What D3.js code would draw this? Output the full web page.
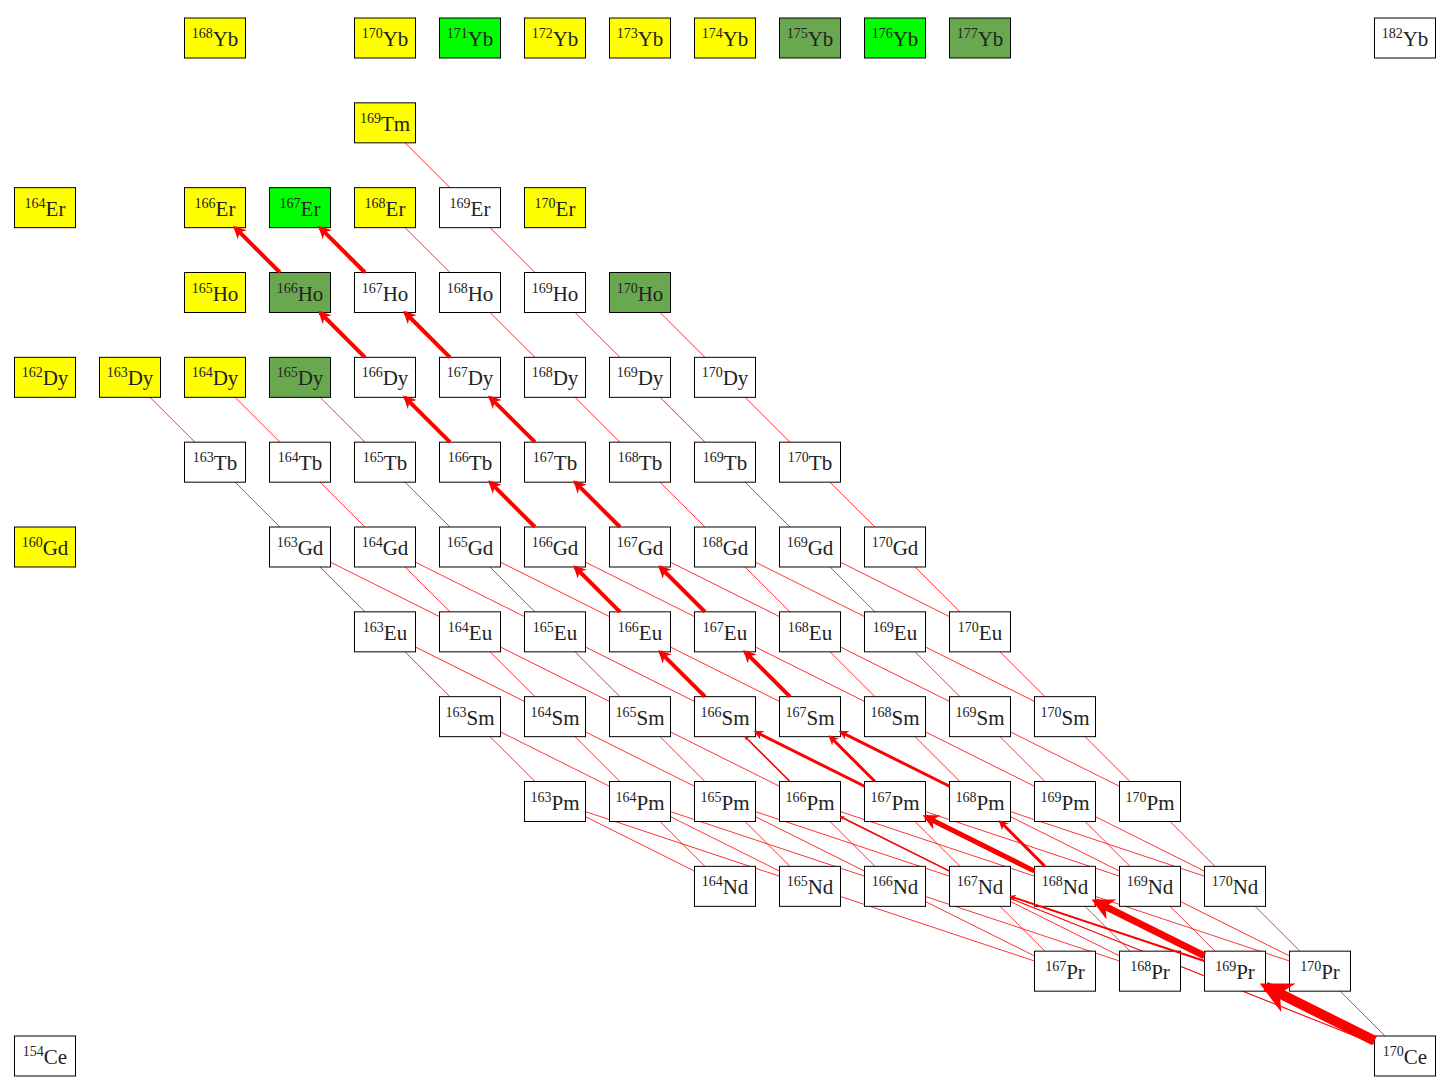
<!DOCTYPE html>
<html><head><meta charset="utf-8">
<script src="https://cdn.jsdelivr.net/npm/d3@7"></script>
<style>body{margin:0;background:#fff}</style>
</head><body>
<svg id="chart" width="1446" height="1089"></svg>
<script>
'use strict';
// elements by Z
var elements = [{z:70,s:'Yb'},{z:69,s:'Tm'},{z:68,s:'Er'},{z:67,s:'Ho'},{z:66,s:'Dy'},{z:65,s:'Tb'},
  {z:64,s:'Gd'},{z:63,s:'Eu'},{z:62,s:'Sm'},{z:61,s:'Pm'},{z:60,s:'Nd'},{z:59,s:'Pr'},{z:58,s:'Ce'}];
// nuclides: [Z, A, colour class] y=yellow g=green d=dark green w=white
var nuclides = [
  [70,168,'y'],[70,170,'y'],[70,171,'g'],[70,172,'y'],[70,173,'y'],[70,174,'y'],[70,175,'d'],[70,176,'g'],[70,177,'d'],[70,182,'w'],
  [69,169,'y'],
  [68,164,'y'],[68,166,'y'],[68,167,'g'],[68,168,'y'],[68,169,'w'],[68,170,'y'],
  [67,165,'y'],[67,166,'d'],[67,167,'w'],[67,168,'w'],[67,169,'w'],[67,170,'d'],
  [66,162,'y'],[66,163,'y'],[66,164,'y'],[66,165,'d'],[66,166,'w'],[66,167,'w'],[66,168,'w'],[66,169,'w'],[66,170,'w'],
  [65,163,'w'],[65,164,'w'],[65,165,'w'],[65,166,'w'],[65,167,'w'],[65,168,'w'],[65,169,'w'],[65,170,'w'],
  [64,160,'y'],[64,163,'w'],[64,164,'w'],[64,165,'w'],[64,166,'w'],[64,167,'w'],[64,168,'w'],[64,169,'w'],[64,170,'w'],
  [63,163,'w'],[63,164,'w'],[63,165,'w'],[63,166,'w'],[63,167,'w'],[63,168,'w'],[63,169,'w'],[63,170,'w'],
  [62,163,'w'],[62,164,'w'],[62,165,'w'],[62,166,'w'],[62,167,'w'],[62,168,'w'],[62,169,'w'],[62,170,'w'],
  [61,163,'w'],[61,164,'w'],[61,165,'w'],[61,166,'w'],[61,167,'w'],[61,168,'w'],[61,169,'w'],[61,170,'w'],
  [60,164,'w'],[60,165,'w'],[60,166,'w'],[60,167,'w'],[60,168,'w'],[60,169,'w'],[60,170,'w'],
  [59,167,'w'],[59,168,'w'],[59,169,'w'],[59,170,'w'],
  [58,154,'w'],[58,170,'w']
];
// strong flows: [Zfrom, Afrom, Ato, width]  (target Z = Zfrom+1)
var flows = [
  [67,166,166,4],[67,167,167,4],[66,166,166,4],[66,167,167,4],[65,166,166,4],[65,167,167,4],
  [64,166,166,4],[64,167,167,4],[63,166,166,4],[63,167,167,4],[62,166,166,4],[62,167,167,4],
  [61,166,166,1.5],[61,167,166,3],[61,167,167,3],[61,168,167,3],
  [60,167,166,1.5],[60,168,167,5],[60,168,168,3],
  [59,169,168,7],[59,169,167,2],[58,170,169,10]
];
var colours = {y:'#ffff00', g:'#00ff00', d:'#6aa84f', w:'#ffffff'};
var boxW = 61, boxH = 40;

var svg = d3.select('#chart');
var x = d3.scaleLinear().domain([96,112]).range([45,1405]);
var y = d3.scaleLinear().domain([70,58]).range([38,1056]);

var byKey = {};
nuclides.forEach(function(n){ byKey[n[0]+'-'+n[1]] = n; });
function pos(z,a){ return [x(a-z), y(z)]; }

// thin decay links
var links = [];
nuclides.forEach(function(n){
  if (n[2] !== 'w' || n[0] >= 69 || n[1] < 163) return;
  var maxN = n[0] <= 60 ? 2 : (n[0] <= 63 ? 1 : 0);
  if (n[0] === 58) maxN = 3;
  for (var k = 0; k <= maxN; k++) {
    if (byKey[(n[0]+1)+'-'+(n[1]-k)]) links.push([n[0], n[1], n[1]-k]);
  }
});
if (byKey['60-167']) { links.push([58,170,168]); links.push([58,170,167]); }

svg.append('g').selectAll('line').data(links).join('line')
  .attr('x1', function(d){ return pos(d[0],d[1])[0]; })
  .attr('y1', function(d){ return pos(d[0],d[1])[1]; })
  .attr('x2', function(d){ return d[0]===58 && d[2]<=168 && d[2]>=167 && d.length ? pos(60,d[2])[0] : pos(d[0]+1,d[2])[0]; })
  .attr('y2', function(d){ return d[0]===58 && d[2]<=168 ? pos(60,d[2])[1] : pos(d[0]+1,d[2])[1]; })
  .attr('stroke','red').attr('stroke-width',0.8);

// arrowhead
svg.append('defs').append('marker').attr('id','head')
  .attr('viewBox','0 0 10 10').attr('refX',8).attr('refY',5)
  .attr('markerWidth',3.2).attr('markerHeight',3.2).attr('orient','auto')
  .append('path').attr('d','M0,0 L10,5 L0,10 L3,5 Z').attr('fill','red');

function clip(c, o){
  var dx = o[0]-c[0], dy = o[1]-c[1];
  var s = Math.min((boxW/2)/Math.abs(dx||1e-9), (boxH/2)/Math.abs(dy||1e-9));
  return [c[0]+dx*s, c[1]+dy*s];
}

var fg = svg.append('g');

// boxes
var cell = svg.append('g').selectAll('g').data(nuclides).join('g')
  .attr('transform', function(d){ var p = pos(d[0],d[1]); return 'translate('+p[0]+','+p[1]+')'; });
cell.append('rect').attr('x',-boxW/2).attr('y',-boxH/2).attr('width',boxW).attr('height',boxH)
  .attr('fill', function(d){ return colours[d[2]]; }).attr('stroke','#000').attr('stroke-width',1);
var label = cell.append('text').attr('text-anchor','middle').attr('y',8)
  .attr('font-family','"Liberation Serif","DejaVu Serif",serif').attr('fill','#222');
label.append('tspan').attr('font-size',14).attr('dy',-8).text(function(d){ return d[1]; });
label.append('tspan').attr('font-size',21).attr('dy',8)
  .text(function(d){ return elements.find(function(e){ return e.z===d[0]; }).s; });

// strong flows on top
svg.append('g').selectAll('line').data(flows).join('line')
  .each(function(d){
    var a = pos(d[0],d[1]), b = pos(d[0]+1,d[2]);
    var s = clip(a,b), e = clip(b,a);
    d3.select(this).attr('x1',s[0]).attr('y1',s[1]).attr('x2',e[0]).attr('y2',e[1]);
  })
  .attr('stroke','red').attr('stroke-width', function(d){ return d[3]; })
  .attr('marker-end','url(#head)');
</script>
</body></html>
